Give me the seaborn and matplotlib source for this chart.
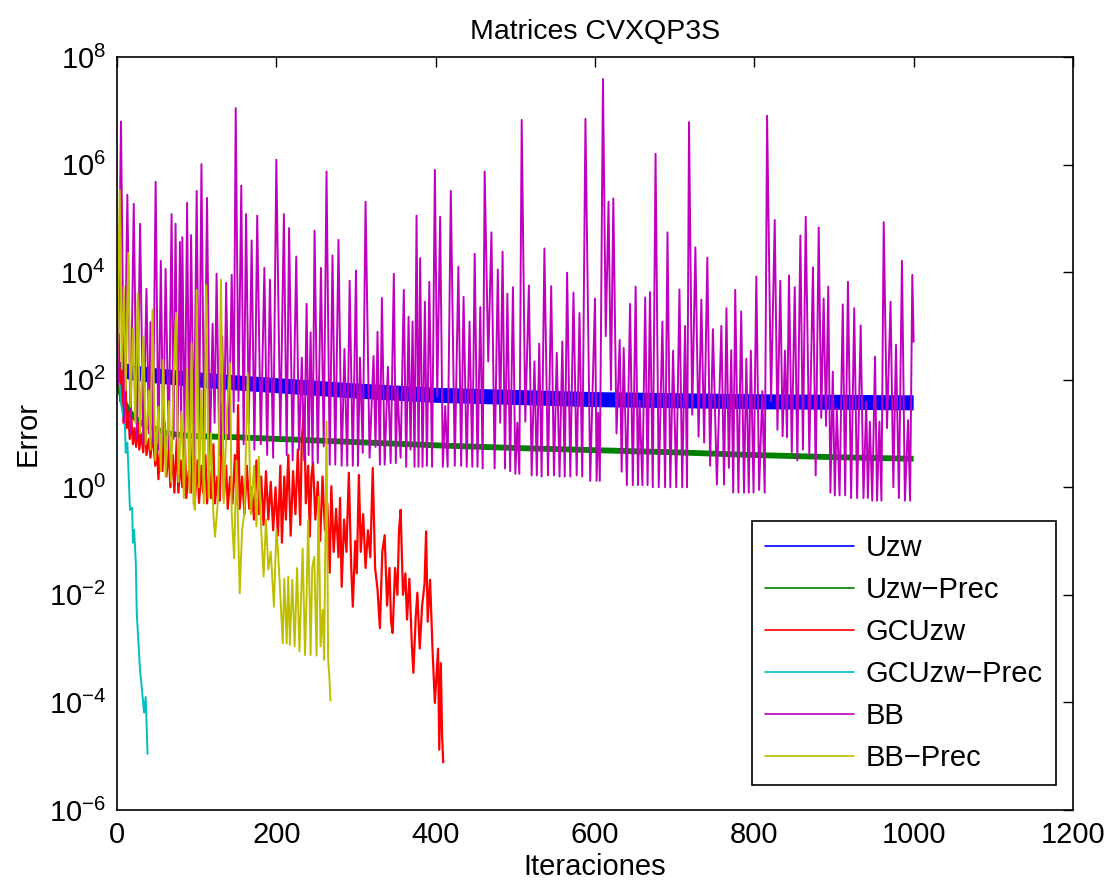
import numpy as np
import matplotlib
matplotlib.use("Agg")
import matplotlib.pyplot as plt
from matplotlib.lines import Line2D
from matplotlib.ticker import FixedLocator, LogFormatterSciNotation, NullLocator
import seaborn as sns

# ---------------- data (iteration, log10(error)) ----------------
uzw_points = [(1, 2.20), (20, 2.13), (50, 2.07), (100, 2.00), (150, 1.94), (200, 1.89),
              (300, 1.79), (400, 1.71), (500, 1.67), (600, 1.63), (700, 1.61),
              (800, 1.59), (900, 1.58), (1000, 1.57)]

uzw_prec_points = [(1, 1.95), (5, 1.75), (10, 1.55), (15, 1.42), (20, 1.32), (30, 1.20),
                   (40, 1.12), (50, 1.07), (60, 1.01), (80, 0.97), (100, 0.95), (150, 0.93),
                   (200, 0.90), (300, 0.84), (400, 0.78), (500, 0.73), (600, 0.69),
                   (700, 0.65), (800, 0.60), (900, 0.56), (1000, 0.53)]

gcuzw_points = [(0, 2.2), (2, 2.85), (4, 1.6), (6, 2.2), (8, 1.2), (10, 2.74), (12, 1.1), (14, 1.4),
                (16, 0.9), (18, 1.3), (20, 0.8), (22, 1.1), (24, 0.75), (26, 1.2), (28, 0.7), (30, 1.0),
                (33, 0.65), (35, 1.3), (37, 0.6), (40, 0.9), (42, 0.55), (45, 1.0), (48, 0.4), (50, 0.8),
                (52, 0.15), (55, 0.9), (57, 0.3), (60, 1.2), (62, 0.2), (65, 0.7), (67, 0.0), (70, 0.6),
                (72, -0.1), (75, 0.9), (77, -0.1), (80, 0.5), (82, 0.0), (85, 1.0), (87, -0.2), (90, 0.3),
                (93, -0.1), (96, 1.31), (98, -0.2), (101, 0.5), (103, -0.29), (106, 0.4), (108, -0.1),
                (111, 0.6), (113, -0.3), (116, 0.3), (118, -0.2), (121, 0.8), (123, -0.3), (126, 0.2),
                (129, -0.25), (132, 1.57), (134, -0.2), (137, 0.4), (139, -0.4), (142, 0.2), (145, -0.3),
                (148, 0.6), (150, -0.3), (152, 1.53), (154, -0.4), (157, 0.2), (160, -0.5), (163, 0.4),
                (166, -0.4), (169, 0.0), (172, -0.6), (175, 0.5), (178, -0.5), (181, 0.2), (184, -0.7),
                (187, 0.3), (190, -0.6), (193, 0.1), (196, -0.8), (199, 0.0), (202, -0.9), (205, 0.4),
                (207, -1.03), (210, 0.2), (212, -0.6), (215, 0.6), (218, -0.9), (221, 0.3), (224, -0.5),
                (227, 0.7), (230, -0.7), (232, 0.9), (235, 1.50), (237, -0.3), (240, 0.4), (242, -0.92),
                (244, 0.2), (246, 0.46), (249, -0.6), (252, 0.1), (255, -1.0), (258, 0.2), (261, -0.8),
                (264, -0.3), (267, -1.59), (269, 0.02), (272, -1.2), (275, -0.4), (278, -1.3), (280, -0.2),
                (282, -1.85), (285, -0.6), (288, -1.2), (291, 0.27), (294, -1.5), (296, -2.22), (299, -1.0),
                (301, -1.6), (303.6, 0.23), (306, -1.2), (309, -0.5), (312, -1.5), (315, -0.8), (318, -1.3),
                (321, 0.36), (324, -1.5), (327, -1.9), (330, -2.62), (333, -1.2), (336, -0.89), (339, -2.2),
                (342, -1.5), (344, -2.5), (346, -2.71), (349, -1.5), (352, -2.0), (354, -0.8), (356, -0.42),
                (359, -2.0), (362, -1.6), (364, -2.46), (367, -1.7), (370, -2.9), (372, -3.45), (375, -2.4),
                (377, -1.96), (380, -3.0), (383, -2.2), (386, -1.8), (388, -0.82), (390, -2.5), (393, -1.72),
                (396, -3.0), (399, -4.01), (401, -3.5), (403, -3.0), (404.5, -4.88), (406.5, -3.27),
                (408, -4.6), (409.5, -5.13)]

gcuzw_prec_points = [(0, 2.0), (3.8, 1.88), (5, 1.57), (10, 1.13), (11, 0.64), (13, 0.83), (13.5, 0.64),
                     (16.3, -0.42), (19, -0.38), (20, -1.03), (21.5, -0.79), (23.6, -1.41), (24.8, -2.34),
                     (28.9, -3.40), (31, -3.71), (34, -4.19), (36, -3.90), (38.4, -4.97)]

bb_points = [(1, 1.9), (5, 6.8), (9, 1.2), (13, 5.44), (17, 1.0), (21, 5.27), (25, 0.9), (29, 4.90),
             (33, 0.8), (37, 3.69), (40, 1.0), (42, 3.07), (45, 0.8), (48.5, 5.68), (52, 0.7), (55, 4.21),
             (58, 0.8), (61, 4.06), (65, 0.7), (68.5, 5.08), (71, 0.9), (73.5, 4.90), (76, 0.8), (79, 4.56),
             (80.5, 1.2), (82, 4.65), (85, 0.7), (88, 5.29), (90.5, 0.8), (93, 4.69), (96.5, 0.6), (100, 5.51),
             (103, 0.9), (106, 6.01), (109.5, 0.7), (113, 5.38), (116.5, 0.6), (120, 3.04), (122.5, 1.2),
             (125, 3.97), (128.5, 0.6), (132, 2.81), (134.5, 1.0), (137, 3.80), (140.5, 0.9), (144, 3.95),
             (146.5, 1.4), (149, 7.05), (152.5, 1.6), (156, 5.61), (159, 0.8), (162, 5.08), (165.5, 1.2),
             (169, 4.59), (172.5, 0.7), (176, 5.05), (180.5, 0.8), (185, 4.08), (188.5, 0.6), (192, 3.86),
             (196, 0.55), (200, 6.09), (205, 0.9), (209.5, 5.08), (213, 0.6), (216, 4.82), (220.5, 0.5),
             (225, 4.29), (228.5, 0.7), (232, 2.41), (235, 0.5), (238, 3.41), (240.5, 0.6), (243, 2.88),
             (245.5, 0.45), (248, 4.77), (252, 0.45), (256, 4.08), (259.5, 0.76), (263, 5.87), (267, 0.42),
             (270.5, 4.31), (274, 0.42), (278, 4.60), (282, 0.4), (285.5, 2.57), (289, 0.4), (292, 3.84),
             (296, 0.4), (300, 4.03), (302.5, 0.4), (305, 2.41), (308.5, 0.64), (312, 5.31), (317, 0.55),
             (322, 2.44), (324.5, 0.75), (327, 2.89), (330, 0.42), (332.5, 3.52), (336, 0.42), (340, 2.24),
             (343.5, 0.45), (347.5, 3.97), (350, 0.45), (352, 1.88), (356, 0.55), (360, 3.67), (363, 0.38),
             (366, 3.17), (368.5, 0.7), (371, 3.08), (373.5, 0.38), (376, 5.05), (378.5, 0.38),
             (380.5, 4.26), (383.5, 0.38), (386.5, 3.45), (389, 0.4), (392, 3.82), (395.5, 0.38),
             (399, 5.90), (402, 1.69), (405.6, 5.03), (409, 0.38), (412, 1.51), (415, 0.38), (419, 5.51),
             (424, 0.4), (428.5, 4.10), (432, 0.4), (435, 3.54), (439, 0.38), (442.5, 3.08), (446, 0.38),
             (449, 4.34), (452.5, 0.38), (456, 3.35), (459, 0.35), (461.5, 5.87), (466, 2.34), (470, 4.74),
             (474, 0.35), (478, 4.05), (481, 1.2), (484, 4.38), (487, 0.35), (490, 3.60), (493.5, 0.3),
             (497, 3.72), (500, 0.25), (502.5, 1.2), (505, 0.25), (508, 6.83), (512.5, 1.22), (517, 3.75),
             (520.5, 0.22), (524, 2.34), (527, 0.22), (530, 2.67), (533, 0.2), (536.5, 4.44), (541, 0.22),
             (545, 3.74), (548.5, 0.22), (552, 2.50), (555.5, 0.2), (559, 2.71), (562, 0.2), (565, 3.99),
             (569, 0.2), (573, 3.62), (577, 0.22), (580.5, 3.24), (584, 0.2), (588, 6.85), (594, 0.12),
             (600, 3.51), (602, 0.12), (604, 1.39), (606, 0.12), (610, 7.59), (613.5, 2.81), (617, 5.31),
             (620, 1.81), (623, 5.37), (627, 1.0), (631, 2.74), (633.5, 0.29), (636, 2.59), (640, 0.04),
             (644, 3.41), (647.5, 0.04), (651, 3.73), (654, 0.04), (656, 1.61), (659.5, 0.04), (663, 3.53),
             (666, 0.04), (669, 3.63), (672.5, 0.0), (676, 6.20), (680, 0.0), (684.6, 3.08), (688, 0.0),
             (691, 4.74), (694.5, 0.0), (698, 2.54), (702, 0.0), (706, 3.68), (709.5, 0.0), (713, 3.00),
             (715.5, 0.0), (718, 6.79), (722, 1.35), (726, 4.46), (730, 0.94), (733.5, 3.49), (737, 0.83),
             (741, 4.27), (744.5, 0.4), (748, 2.94), (753, 0.05), (758.6, 3.00), (762, 0.05), (765, 3.33),
             (768, 0.36), (771, 2.55), (773.5, -0.1), (776, 3.67), (780, -0.1), (783.5, 3.27), (787, -0.1),
             (790, 2.39), (793, -0.1), (795.6, 2.54), (799, -0.1), (802.5, 3.92), (806, -0.05), (810, 1.79),
             (813, -0.1), (816, 6.91), (821, 1.6), (825.6, 4.97), (829, 1.07), (832.6, 3.84), (835.5, 0.95),
             (838.5, 2.54), (841, 0.93), (843.5, 3.94), (847, 0.65), (850.7, 3.72), (854, 0.5), (857.8, 4.68),
             (861, 0.7), (864.5, 5.03), (869, 0.6), (873.6, 4.09), (877, 0.22), (880.8, 4.83), (884, 1.29),
             (887, 3.51), (890, 1.14), (892.8, 3.73), (895.5, -0.1), (898.5, 2.15), (901, -0.15),
             (903.5, 1.47), (907, -0.15), (911, 3.40), (914, -0.15), (917.5, 3.82), (921.5, -0.2),
             (925.4, 3.33), (929, -0.2), (933.5, 3.01), (937, -0.2), (940.5, 1.59), (942.5, -0.2),
             (945, 1.22), (948, -0.25), (951.5, 2.43), (954, -0.25), (957, 1.22), (959.5, -0.25),
             (962.4, 4.93), (966.5, 1.1), (971, 3.45), (974.5, 0.0), (977.8, 2.65), (981.5, -0.2),
             (985.3, 4.21), (989, -0.25), (993, 1.25), (995.5, -0.25), (998.3, 3.95), (1000, 2.69)]

bb_prec_points = [(0, 2.0), (3.4, 5.53), (6, 2.2), (8.5, 3.73), (11, 1.8), (14.2, 4.36), (17, 1.5),
                  (20, 2.96), (23, 1.2), (26, 3.61), (29, 1.0), (33, 2.80), (36, 0.8), (40, 1.8), (42, 0.7),
                  (44.6, 3.30), (48, 0.5), (52, 1.5), (55, 0.3), (58, 2.37), (61, 0.2), (65, 1.6), (68, 0.1),
                  (71, 2.0), (74, 3.24), (77, 0.1), (81, 1.4), (84, -0.2), (88, 2.2), (91, -0.1),
                  (93.6, 2.68), (96, -0.3), (98, -0.42), (100, 3.67), (103, 0.0), (106, 1.8), (109, -0.3),
                  (112, 3.76), (115, -0.2), (118, 1.0), (121, -0.5), (123, -0.92), (127, -0.2),
                  (130.5, 3.86), (134, -0.3), (138, 1.4), (142, 2.31), (144, -0.5), (147, -1.32),
                  (150, 0.5), (154, -1.97), (157, -0.8), (160, -0.47), (164, 2.12), (168, -0.5), (172, 0.4),
                  (175, -0.73), (178, 0.57), (181, -0.8), (184, -1.66), (187, -0.6), (190, -1.53),
                  (193, -1.2), (197, -2.22), (200, -0.8), (202, -1.16), (205, -2.0), (208, -2.90),
                  (210, -1.7), (213, -2.9), (215, -1.66), (217, -2.93), (220, -1.72), (223, -2.96),
                  (226, -1.5), (229, -3.05), (233, -1.14), (236, -3.12), (238, -2.0), (240, -0.61),
                  (243, -3.12), (245, -1.5), (247.6, -1.29), (250.5, -3.13), (253, -0.18), (255.5, -2.96),
                  (258, -2.28), (260, -3.21), (263, 1.22), (265, -3.21), (266.5, -3.5), (268, -3.98)]

series_names = ["Uzw", "Uzw\u2212Prec", "GCUzw", "GCUzw\u2212Prec", "BB", "BB\u2212Prec"]
series_points = [uzw_points, uzw_prec_points, gcuzw_points, gcuzw_prec_points, bb_points, bb_prec_points]
series_colors = ["#0000FF", "#008000", "#FF0000", "#00BFBF", "#BF00BF", "#BFBF00"]
series_widths = [10.8, 4.2, 1.6, 1.4, 1.4, 1.4]

x_ticks = [0, 200, 400, 600, 800, 1000, 1200]
y_ticks = [1e-6, 1e-4, 1e-2, 1e0, 1e2, 1e4, 1e6, 1e8]

# ---------------- style ----------------
sns.set_style("white")
plt.rcParams["font.family"] = ["Liberation Sans", "DejaVu Sans"]
plt.rcParams["mathtext.fontset"] = "custom"
plt.rcParams["mathtext.rm"] = "Liberation Sans"
plt.rcParams["mathtext.it"] = "Liberation Sans:italic"
plt.rcParams["mathtext.bf"] = "Liberation Sans:bold"
plt.rcParams["text.color"] = "black"
plt.rcParams["axes.labelcolor"] = "black"
plt.rcParams["xtick.color"] = "black"
plt.rcParams["ytick.color"] = "black"

FS = 21

fig = plt.figure(figsize=(11.1, 8.9), dpi=100)
ax = fig.add_axes([117 / 1110, 1 - 810 / 890, (1073 - 117) / 1110, (810 - 57) / 890])

for name, pts, col, lw in zip(series_names, series_points, series_colors, series_widths):
    xs = np.array([p[0] for p in pts], dtype=float)
    ys = 10.0 ** np.array([p[1] for p in pts], dtype=float)
    sns.lineplot(x=xs, y=ys, ax=ax, color=col, linewidth=lw, estimator=None,
                 sort=False, legend=False, solid_capstyle="butt",
                 solid_joinstyle="miter" if lw > 3 else "round")

ax.set_yscale("log")
ax.set_xlim(0, 1200)
ax.set_ylim(1e-6, 1e8)
ax.xaxis.set_major_locator(FixedLocator(x_ticks))
ax.yaxis.set_major_locator(FixedLocator(y_ticks))
ax.yaxis.set_major_formatter(LogFormatterSciNotation())
ax.yaxis.set_minor_locator(NullLocator())
ax.xaxis.set_minor_locator(NullLocator())

ax.tick_params(axis="both", which="major", direction="in", top=True, right=True,
               length=7, width=1.0, color="black", labelcolor="black", labelsize=FS, pad=8)
for sp in ax.spines.values():
    sp.set_visible(True)
    sp.set_color("black")
    sp.set_linewidth(1.2)

ax.set_title("Matrices CVXQP3S", fontsize=FS - 0.5, pad=13, color="black")
ax.set_xlabel("Iteraciones", fontsize=FS, labelpad=3, color="black")
ax.set_ylabel("Error", fontsize=FS, labelpad=5, color="black")

handles = [Line2D([0], [0], color=c, lw=1.2) for c in series_colors]
leg = ax.legend(handles, series_names, loc="lower right", bbox_to_anchor=(0.982, 0.033),
                borderaxespad=0.0, fontsize=FS, frameon=True, fancybox=False,
                handlelength=3.05, handletextpad=0.4, borderpad=0.45, labelspacing=0.48)
leg.get_frame().set_edgecolor("black")
leg.get_frame().set_linewidth(1.2)
leg.get_frame().set_alpha(1.0)
for t in leg.get_texts():
    t.set_color("black")

fig.savefig("out.png", dpi=100)
